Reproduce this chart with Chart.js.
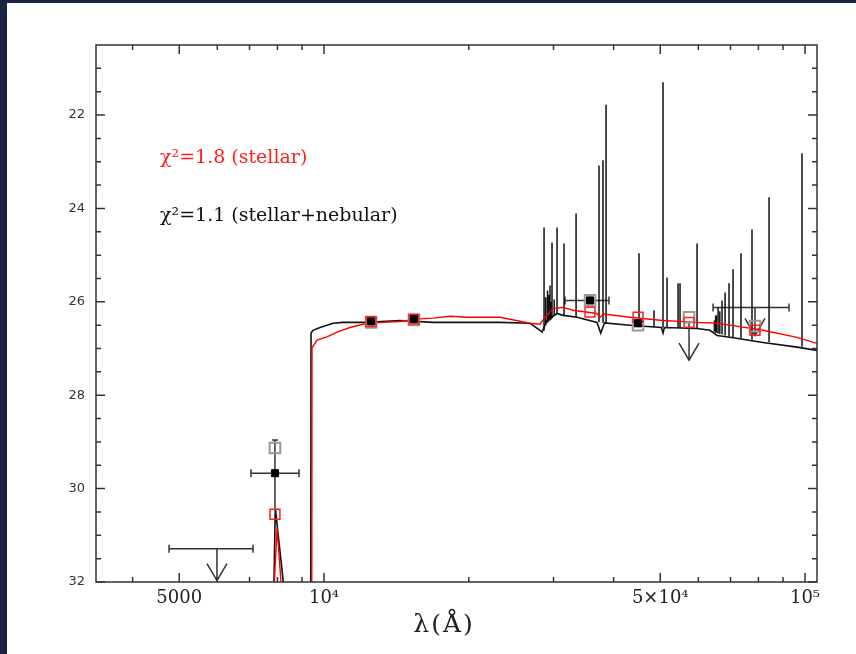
<!DOCTYPE html>
<html>
<head>
<meta charset="utf-8">
<title>SED fit</title>
<script src="https://cdn.jsdelivr.net/npm/chart.js@4.4.1/dist/chart.umd.min.js"></script>
<style>
  body{margin:0;background:#1b2444;}
  #panel{position:absolute;left:7px;top:3px;width:849px;height:651px;background:#fff;}
</style>
</head>
<body>
<div id="panel"><canvas id="myChart" width="849" height="651"></canvas></div>
<script>
// stellar+nebular model (black) - continuum
var nebWave=[7850,7920,8350,9385,9397,9487,9810,10440,10950,12290,14390,16850,19830,23220,26810,28120,28400,29080,30510,31400,33570,36950,37600,38300,43270,50300,50670,51000,59640,63470,65630,69840,81780,96250,105900];
var nebMag=[32.6,30.42,32.6,32.6,26.67,26.61,26.55,26.46,26.44,26.44,26.40,26.44,26.44,26.44,26.46,26.61,26.65,26.40,26.25,26.29,26.33,26.44,26.67,26.45,26.50,26.55,26.67,26.55,26.57,26.61,26.72,26.76,26.87,26.97,27.04];

// nebular emission lines on top of it
var lineWave=[28670,28900,29150,29300,29500,29650,29785,30100,30510,31550,33420,37300,38020,38580,45170,48540,50670,51660,54450,54970,59640,64800,65200,65400,65950,66500,67220,68200,69500,70850,73600,77580,84180,98570];
var lineTop=[24.41,25.90,25.76,25.85,25.65,26.00,24.73,25.95,24.41,24.75,24.11,23.08,22.97,21.78,24.96,26.18,21.30,25.48,25.60,25.60,24.75,26.40,26.30,26.29,26.12,26.20,25.97,25.80,25.60,25.30,24.96,24.45,23.76,22.82];
var lineBase=[26.62,26.50,26.45,26.42,26.40,26.38,26.35,26.30,26.25,26.29,26.33,26.44,26.45,26.46,26.51,26.53,26.55,26.55,26.56,26.56,26.57,26.64,26.66,26.66,26.68,26.69,26.70,26.72,26.74,26.76,26.78,26.81,26.86,26.96];

// pure stellar model (red)
var stelWave=[7830,7988,8219,9430,9442,9671,10145,10642,11325,12290,13260,14390,15600,16850,18280,19830,21400,23220,26810,28120,28810,29930,31400,32950,36950,37500,38100,43270,50670,59640,65630,69840,81780,96250,105900];
var stelMag=[32.6,30.85,32.6,32.6,26.99,26.82,26.75,26.65,26.55,26.46,26.44,26.42,26.37,26.35,26.31,26.33,26.33,26.33,26.46,26.48,26.33,26.14,26.12,26.18,26.25,26.33,26.26,26.33,26.40,26.44,26.46,26.50,26.61,26.76,26.89];

// model photometry in the filters
var bandWave=[7907,12525,15380,35730,44960,57400,78700];
var bandStel=[30.55,26.42,26.37,26.22,26.33,26.44,26.61];
var bandNeb=[29.13,26.44,26.39,25.97,26.50,26.33,26.52];

// observed detections
var obsWave=[7907,12525,15380,35730,44960];
var obsMag=[29.67,26.42,26.37,25.97,26.46];
var obsMagTop=[28.96,null,null,null,null];
var obsMagBot=[30.42,null,null,null,null];
var obsWaveLo=[7050,null,null,31700,null];
var obsWaveHi=[8872,null,null,39120,null];

// upper limits
var ulWave=[5990,57400,78700];
var ulMag=[31.29,26.42,26.12];
var ulTip=[31.97,27.25,26.72];
var ulWaveLo=[4763,null,64390];
var ulWaveHi=[7118,null,92620];

// axes
var xTickVals=[5000,10000,50000,100000];
var xTickLabels=['5000','10⁴','5×10⁴','10⁵'];
var xMinor=[4000,6000,7000,8000,9000,20000,30000,40000,60000,70000,80000,90000];
var yTickVals=[22,24,26,28,30,32];

function pts(xs,ys){
	var out=[];
	xs.forEach(function(x,i){ out.push({x:x,y:ys[i]}); });
	return out;
}

var lineData=[];
lineWave.forEach(function(w,i){
	lineData.push({x:w,y:lineBase[i]});
	lineData.push({x:w,y:lineTop[i]});
	lineData.push({x:w,y:null});
});

var marks={
	id:'marks',
	beforeDatasetsDraw:function(chart){
		var ctx=chart.ctx, xs=chart.scales.x, ys=chart.scales.y;
		ctx.save();
		ctx.strokeStyle='#333';
		ctx.lineWidth=1.5;
		ctx.beginPath();
		obsWave.forEach(function(w,i){
			var px=xs.getPixelForValue(w), py=ys.getPixelForValue(obsMag[i]);
			if(obsMagTop[i]!==null){
				var t=ys.getPixelForValue(obsMagTop[i]), b=ys.getPixelForValue(obsMagBot[i]);
				ctx.moveTo(px,t); ctx.lineTo(px,b);
				ctx.moveTo(px-3,t); ctx.lineTo(px+3,t);
			}
			if(obsWaveLo[i]!==null){
				var l=xs.getPixelForValue(obsWaveLo[i]), r=xs.getPixelForValue(obsWaveHi[i]);
				ctx.moveTo(l,py); ctx.lineTo(r,py);
				ctx.moveTo(l,py-4); ctx.lineTo(l,py+4);
				ctx.moveTo(r,py-4); ctx.lineTo(r,py+4);
			}
		});
		ulWave.forEach(function(w,i){
			var px=xs.getPixelForValue(w), py=ys.getPixelForValue(ulMag[i]), tip=ys.getPixelForValue(ulTip[i]);
			if(ulWaveLo[i]!==null){
				var l=xs.getPixelForValue(ulWaveLo[i]), r=xs.getPixelForValue(ulWaveHi[i]);
				ctx.moveTo(l,py); ctx.lineTo(r,py);
				ctx.moveTo(l,py-4); ctx.lineTo(l,py+4);
				ctx.moveTo(r,py-4); ctx.lineTo(r,py+4);
			}
			ctx.moveTo(px,py); ctx.lineTo(px,tip);
			ctx.moveTo(px-10,tip-17); ctx.lineTo(px,tip); ctx.lineTo(px+10,tip-17);
		});
		ctx.stroke();
		ctx.restore();
	},
	afterDraw:function(chart){
		var ctx=chart.ctx, a=chart.chartArea, xs=chart.scales.x, ys=chart.scales.y;
		ctx.save();
		ctx.strokeStyle='#333';
		ctx.lineWidth=1.5;
		ctx.strokeRect(a.left,a.top,a.right-a.left,a.bottom-a.top);
		ctx.beginPath();
		// x ticks, inward on bottom and top
		xTickVals.concat(xMinor).forEach(function(v){
			var px=xs.getPixelForValue(v), len=xTickVals.indexOf(v)>=0?9:5;
			ctx.moveTo(px,a.bottom); ctx.lineTo(px,a.bottom-len);
			ctx.moveTo(px,a.top); ctx.lineTo(px,a.top+len);
		});
		// y ticks, inward on left and right
		for(var m=21;m<=32;m+=0.5){
			var py=ys.getPixelForValue(m), len=yTickVals.indexOf(m)>=0?9:5;
			ctx.moveTo(a.left,py); ctx.lineTo(a.left+len,py);
			ctx.moveTo(a.right,py); ctx.lineTo(a.right-len,py);
		}
		ctx.stroke();
		// fit labels
		ctx.font='19px "DejaVu Serif"';
		ctx.textBaseline='alphabetic';
		ctx.fillStyle='#ff2020';
		ctx.fillText('χ²=1.8 (stellar)',153,160);
		ctx.fillStyle='#111';
		ctx.fillText('χ²=1.1 (stellar+nebular)',153,218);
		// axis title
		ctx.font='25px "DejaVu Serif"';
		ctx.letterSpacing='2px';
		ctx.textAlign='center';
		ctx.fillStyle='#222';
		ctx.fillText('λ(Å)',437,629);
		ctx.restore();
	}
};

var ctx=document.getElementById('myChart').getContext('2d');
var myChart=new Chart(ctx,{
	type:'scatter',
	data:{
		datasets:[
			{data:pts(obsWave,obsMag),pointStyle:'rect',pointRadius:5,backgroundColor:'#000',borderColor:'#000',borderWidth:1,order:0},
			{data:pts(bandWave,bandStel),pointStyle:'rect',pointRadius:7,backgroundColor:'rgba(0,0,0,0)',borderColor:'#ff2020',borderWidth:1.5,order:1},
			{data:pts(bandWave,bandNeb),pointStyle:'rect',pointRadius:7.5,backgroundColor:'rgba(0,0,0,0)',borderColor:'#999',borderWidth:2,order:2},
			{data:pts(stelWave,stelMag),showLine:true,pointRadius:0,borderColor:'#ff0000',borderWidth:1.4,order:3},
			{data:lineData,showLine:true,pointRadius:0,borderColor:'#111',borderWidth:1.5,order:4},
			{data:pts(nebWave,nebMag),showLine:true,pointRadius:0,borderColor:'#111',borderWidth:1.6,order:5}
		]
	},
	options:{
		responsive:false,
		animation:false,
		devicePixelRatio:1,
		layout:{padding:{left:0,right:39,top:42,bottom:0}},
		plugins:{legend:{display:false},tooltip:{enabled:false}},
		scales:{
			x:{
				type:'logarithmic',
				min:3357,max:105900,
				grid:{display:false,drawTicks:false},
				border:{display:false},
				afterBuildTicks:function(scale){ scale.ticks=xTickVals.map(function(v){return {value:v};}); },
				afterFit:function(scale){ scale.height=72; },
				ticks:{
					autoSkip:false,maxRotation:0,padding:6,color:'#222',
					font:{family:'DejaVu Serif',size:18},
					callback:function(v){ return xTickLabels[xTickVals.indexOf(v)]; }
				}
			},
			y:{
				type:'linear',
				reverse:true,
				min:20.5,max:32,
				grid:{display:false,drawTicks:false},
				border:{display:false},
				afterBuildTicks:function(scale){ scale.ticks=yTickVals.map(function(v){return {value:v};}); },
				afterFit:function(scale){ scale.width=89; },
				ticks:{padding:11,color:'#333',font:{family:'DejaVu Sans',size:13}}
			}
		}
	},
	plugins:[marks]
});
</script>
</body>
</html>
